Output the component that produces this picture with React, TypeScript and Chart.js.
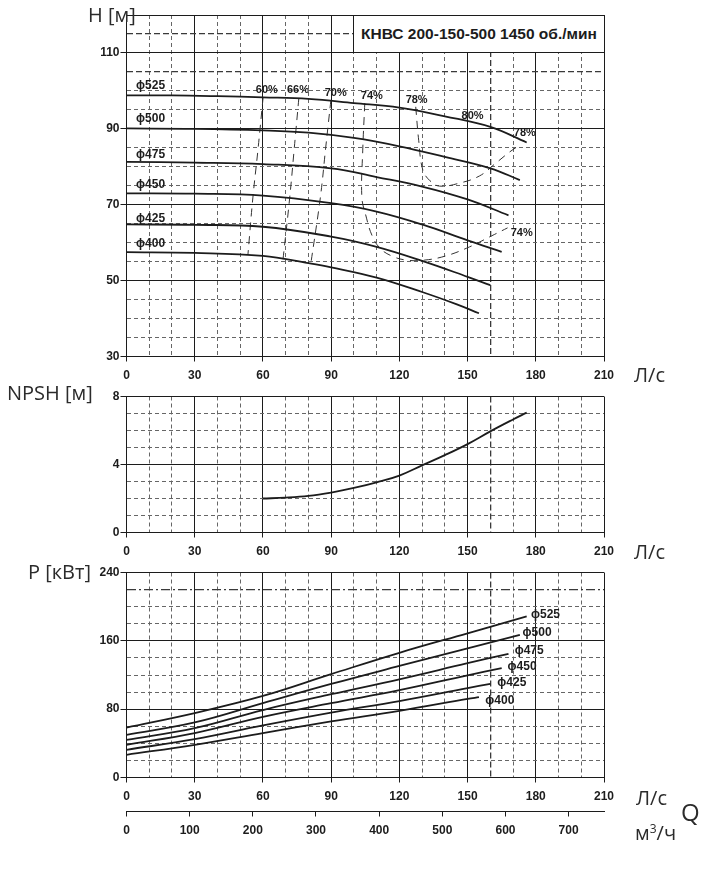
import { useEffect, useRef } from 'react';
import { Chart, registerables, type ChartConfiguration, type Plugin } from 'chart.js';

Chart.register(...registerables);

type Pt = [number, number]; // [Q л/с, value]

// Напор H [м] по диаметрам колеса
const H_525: Pt[] = [[0, 98.8], [20, 98.8], [40, 98.6], [60, 98.3], [80, 97.9], [100, 96.8], [120, 95.6], [140, 93.3], [160, 90.5], [176, 86.4]];
const H_500: Pt[] = [[0, 90.1], [30, 90], [60, 89.6], [80, 89], [100, 87.6], [120, 85.4], [140, 82.6], [160, 79.6], [173, 76.5]];
const H_475: Pt[] = [[0, 81.3], [30, 81.1], [60, 80.7], [90, 79.6], [110, 77.3], [130, 74.8], [150, 71.4], [168, 67.2]];
const H_450: Pt[] = [[0, 73], [30, 72.9], [60, 72.4], [90, 70.4], [110, 68.2], [130, 64.8], [150, 60.6], [165, 57.6]];
const H_425: Pt[] = [[0, 64.8], [30, 64.7], [60, 64.2], [90, 61.6], [110, 58.9], [130, 55.2], [150, 51], [160, 48.8]];
const H_400: Pt[] = [[0, 57.5], [30, 57.3], [60, 56.5], [80, 54.6], [90, 53.5], [110, 50.8], [130, 47], [145, 43.8], [155, 41.4]];

// Изолинии КПД
const EFF_60: Pt[] = [[60.1, 98.4], [57.8, 84.4], [55.6, 72], [53.4, 56.8]];
const EFF_66: Pt[] = [[75.8, 98.1], [73.8, 85], [71.8, 72], [68.8, 55.4]];
const EFF_70: Pt[] = [[89.9, 97.6], [87.6, 85], [85.3, 72.1], [81.1, 54.6]];
const EFF_74: Pt[] = [[104.8, 96.8], [103.9, 84.4], [103.5, 72], [105.2, 67.3], [107.9, 62], [111.4, 58.6], [116.6, 56.5], [123.2, 55.4], [131, 55.4], [140.4, 56.5], [150.9, 58.9], [160.6, 61.8], [167.6, 63.9]];
const EFF_78: Pt[] = [[127.2, 95.8], [128.5, 87], [130.3, 79.2], [133.5, 76.3], [137.7, 74.9], [146.5, 75.7], [155.3, 77.6], [161.9, 80.7], [168.5, 83.9], [172.9, 85.7]];

// NPSH [м]
const NPSH: Pt[] = [[60, 2.0], [70, 2.05], [80, 2.15], [90, 2.35], [100, 2.62], [110, 2.95], [120, 3.35], [130, 3.95], [140, 4.55], [150, 5.2], [160, 5.95], [170, 6.65], [176, 7.05]];

// Мощность P [кВт]
const P_525: Pt[] = [[0, 58.5], [30, 75.5], [60, 95.5], [90, 121], [120, 146], [150, 168.8], [176, 188.5]];
const P_500: Pt[] = [[0, 50], [30, 64.4], [60, 87], [90, 109.5], [120, 130.6], [150, 151.3], [173, 167]];
const P_475: Pt[] = [[0, 44], [30, 57.8], [60, 79], [90, 97.5], [120, 115], [150, 133.8], [168, 144.8]];
const P_450: Pt[] = [[0, 38.3], [30, 52], [60, 71], [90, 87], [120, 102.2], [150, 119.6], [165, 128]];
const P_425: Pt[] = [[0, 32.4], [30, 45], [60, 61], [90, 76], [120, 89.5], [150, 104.7], [160, 109.7]];
const P_400: Pt[] = [[0, 26.6], [30, 38.3], [60, 52], [90, 65.6], [120, 78], [150, 92], [155, 94.1]];

// Подписи делений
const Q_LABELS = [0, 30, 60, 90, 120, 150, 180, 210];
const H_LABELS = [30, 50, 70, 90, 110];
const NPSH_LABELS = [0, 4, 8];
const P_LABELS = [0, 80, 160, 240];

const INK = '#1c1c1c';
const MINOR = '#666';
const HEAVY = '#3a3a3a';
const TICK_FONT = { family: '"Liberation Sans", Arial, sans-serif', size: 12, weight: 'bold' as const };
const MARK_FONT = 'bold 12px "Liberation Sans", "DejaVu Sans", sans-serif';
const PCT_FONT = 'bold 11px "Liberation Sans", sans-serif';
const UNIT_FONT = '"Open Sans", "Noto Sans", sans-serif';

interface AxisSpec {
  min: number;
  max: number;
  step: number;
  labels: number[];
  heavy?: number[];
  heavyDash?: number[];
}

const Q_SPEC: AxisSpec = { min: 0, max: 210, step: 10, labels: Q_LABELS, heavy: [160] };
const H_SPEC: AxisSpec = { min: 30, max: 120, step: 5, labels: H_LABELS, heavy: [105, 115] };
const NPSH_SPEC: AxisSpec = { min: 0, max: 8, step: 1, labels: NPSH_LABELS };
const P_SPEC: AxisSpec = { min: 0, max: 240, step: 20, labels: P_LABELS, heavy: [220], heavyDash: [9, 3, 2, 3] };

function gridScale(spec: AxisSpec, side: 'left' | 'bottom', size: number) {
  const labelled = (v: number) => spec.labels.includes(v);
  const kind = (v: number | undefined) => {
    if (v === undefined) return 'solid';
    if (spec.heavy?.includes(v)) return 'heavy';
    if (labelled(v) || v === spec.min || v === spec.max) return 'solid';
    return 'minor';
  };
  return {
    type: 'linear' as const,
    position: side,
    min: spec.min,
    max: spec.max,
    afterFit: (s: any) => {
      if (side === 'left') s.width = size;
      else s.height = size;
    },
    ticks: {
      stepSize: spec.step,
      autoSkip: false,
      maxRotation: 0,
      includeBounds: false,
      padding: side === 'left' ? 1 : 7,
      color: INK,
      font: TICK_FONT,
      callback: (v: any) => (labelled(Number(v)) ? String(v) : ''),
    },
    grid: {
      color: (c: any) => {
        const k = kind(c.tick?.value);
        return k === 'minor' ? MINOR : k === 'heavy' ? HEAVY : INK;
      },
      lineWidth: (c: any) => (kind(c.tick?.value) === 'heavy' ? 1.3 : 1),
      tickLength: side === 'left' ? 6 : 5,
      tickWidth: 1,
      tickColor: (c: any) => (labelled(c.tick?.value) ? INK : 'rgba(0,0,0,0)'),
    },
    border: {
      display: true,
      color: INK,
      width: 1,
      dash: (c: any) => {
        const k = kind(c.tick?.value);
        if (k === 'minor') return [4, 3];
        if (k === 'heavy') return spec.heavyDash ?? [6, 3];
        return [];
      },
    },
  };
}

interface TextMark {
  text: string;
  q: number;
  v: number;
  pct?: boolean;
}

// Подписи кривых (диаметры, КПД) в координатах данных
const H_MARKS: TextMark[] = [
  { text: 'ϕ525', q: 4.2, v: 101.3 },
  { text: 'ϕ500', q: 4.2, v: 92.6 },
  { text: 'ϕ475', q: 4.2, v: 83.1 },
  { text: 'ϕ450', q: 4.2, v: 75.2 },
  { text: 'ϕ425', q: 4.2, v: 66.4 },
  { text: 'ϕ400', q: 4.2, v: 59.8 },
  { text: '60%', q: 61.7, v: 100.2, pct: true },
  { text: '66%', q: 75.4, v: 100.2, pct: true },
  { text: '70%', q: 92.0, v: 99.4, pct: true },
  { text: '74%', q: 107.9, v: 98.7, pct: true },
  { text: '78%', q: 127.6, v: 97.6, pct: true },
  { text: '80%', q: 152.2, v: 93.4, pct: true },
  { text: '78%', q: 175.2, v: 88.9, pct: true },
  { text: '74%', q: 173.8, v: 62.5, pct: true },
];

const P_MARKS: TextMark[] = [
  { text: 'ϕ525', q: 177.9, v: 190.5 },
  { text: 'ϕ500', q: 174.2, v: 169 },
  { text: 'ϕ475', q: 170.7, v: 148.7 },
  { text: 'ϕ450', q: 167.6, v: 129.3 },
  { text: 'ϕ425', q: 163.1, v: 110.5 },
  { text: 'ϕ400', q: 157.8, v: 89.8 },
];

function textMarks(id: string, marks: TextMark[]): Plugin<'line'> {
  return {
    id,
    afterDatasetsDraw(chart) {
      const { ctx, scales } = chart;
      ctx.save();
      ctx.fillStyle = INK;
      ctx.textBaseline = 'middle';
      for (const m of marks) {
        ctx.font = m.pct ? PCT_FONT : MARK_FONT;
        ctx.textAlign = m.pct ? 'center' : 'left';
        ctx.fillText(m.text, scales.x.getPixelForValue(m.q), scales.y.getPixelForValue(m.v));
      }
      ctx.restore();
    },
  };
}

const curve = (pts: Pt[], width = 1.8) => ({
  data: pts.map(([x, y]) => ({ x, y })),
  borderColor: INK,
  borderWidth: width,
  pointRadius: 0,
  tension: 0.4,
  fill: false,
  xAxisID: 'x',
  yAxisID: 'y',
});

const effLine = (pts: Pt[]) => ({ ...curve(pts, 1), borderColor: '#333', borderDash: [8, 6] });

const baseOptions = {
  responsive: false,
  animation: false as const,
  events: [],
  plugins: { legend: { display: false }, tooltip: { enabled: false } },
};

function headConfig(): ChartConfiguration<'line'> {
  return {
    type: 'line',
    data: {
      datasets: [
        curve(H_525), curve(H_500), curve(H_475), curve(H_450), curve(H_425), curve(H_400),
        effLine(EFF_60), effLine(EFF_66), effLine(EFF_70), effLine(EFF_74), effLine(EFF_78),
      ],
    },
    options: {
      ...baseOptions,
      layout: { padding: { top: 15, right: 117, bottom: 8.5, left: 0 } },
      scales: { x: gridScale(Q_SPEC, 'bottom', 30), y: gridScale(H_SPEC, 'left', 126.5) } as any,
    },
    plugins: [textMarks('headMarks', H_MARKS)],
  };
}

function npshConfig(): ChartConfiguration<'line'> {
  return {
    type: 'line',
    data: { datasets: [curve(NPSH)] },
    options: {
      ...baseOptions,
      layout: { padding: { top: 11.5, right: 117, bottom: 2.5, left: 0 } },
      scales: { x: gridScale(Q_SPEC, 'bottom', 30), y: gridScale(NPSH_SPEC, 'left', 126.5) } as any,
    },
  };
}

function powerConfig(): ChartConfiguration<'line'> {
  return {
    type: 'line',
    data: {
      datasets: [curve(P_525), curve(P_500), curve(P_475), curve(P_450), curve(P_425), curve(P_400)],
    },
    options: {
      ...baseOptions,
      layout: { padding: { top: 12.5, right: 117, bottom: 47.5, left: 0 } },
      scales: {
        x: gridScale(Q_SPEC, 'bottom', 34),
        y: gridScale(P_SPEC, 'left', 126.5),
        // м³/ч = л/с × 3.6
        x2: {
          type: 'linear',
          position: 'bottom',
          weight: 1,
          min: Q_SPEC.min * 3.6,
          max: Q_SPEC.max * 3.6,
          afterFit: (s: any) => { s.height = 30; },
          ticks: { stepSize: 100, includeBounds: false, autoSkip: false, maxRotation: 0, padding: 7, color: INK, font: TICK_FONT },
          grid: { drawOnChartArea: false, tickLength: 5, tickWidth: 1, tickColor: INK, color: INK },
          border: { display: true, color: INK, width: 1 },
        },
      } as any,
    },
    plugins: [textMarks('powerMarks', P_MARKS)],
  };
}

function Panel({ top, height, config }: { top: number; height: number; config: () => ChartConfiguration<'line'> }) {
  const ref = useRef<HTMLCanvasElement>(null);
  useEffect(() => {
    if (!ref.current) return;
    const chart = new Chart(ref.current, config());
    return () => chart.destroy();
  }, []);
  return (
    <canvas
      ref={ref}
      width={721}
      height={height}
      style={{ position: 'absolute', left: 0, top, width: 721, height }}
    />
  );
}

function Unit({ x, y, size = 20, children }: { x: number; y: number; size?: number; children: React.ReactNode }) {
  return (
    <div
      style={{
        position: 'absolute', left: x, top: y - size * 0.7, lineHeight: `${size * 1.4}px`,
        font: `${size}px ${UNIT_FONT}`, color: '#2b2b2b', whiteSpace: 'nowrap',
      }}
    >
      {children}
    </div>
  );
}

export default function App() {
  return (
    <div style={{ position: 'fixed', left: 0, top: 0, width: 721, height: 889, background: '#fff', overflow: 'hidden' }}>
      <Panel top={0} height={395} config={headConfig} />
      <Panel top={385} height={180} config={npshConfig} />
      <Panel top={560} height={329} config={powerConfig} />

      <div
        style={{
          position: 'absolute', left: 353, top: 15, width: 252, height: 38, boxSizing: 'border-box',
          border: `1px solid ${INK}`, background: '#fff', color: INK,
          font: 'bold 15.5px "Liberation Sans", Arial, sans-serif',
          display: 'flex', alignItems: 'center', justifyContent: 'center', whiteSpace: 'nowrap',
        }}
      >
        КНВС 200-150-500 1450 об./мин
      </div>

      <Unit x={88} y={15}>H [м]</Unit>
      <Unit x={7} y={393}>NPSH [м]</Unit>
      <Unit x={28} y={572}>P [кВт]</Unit>
      <Unit x={634} y={375}>Л/с</Unit>
      <Unit x={634} y={552}>Л/с</Unit>
      <Unit x={636} y={798}>Л/с</Unit>
      <Unit x={681} y={812} size={24}>Q</Unit>
      <Unit x={635} y={833}>
        м<sup style={{ fontSize: 12, verticalAlign: 'top', lineHeight: '20px' }}>3</sup>/ч
      </Unit>
    </div>
  );
}
